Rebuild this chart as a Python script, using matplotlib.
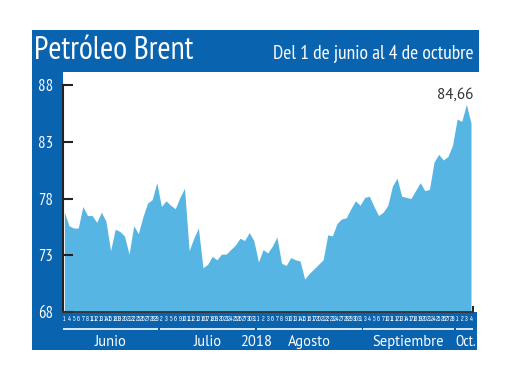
import matplotlib.pyplot as plt
from matplotlib.patches import Rectangle
from matplotlib import transforms

# Brent daily close, 1 Jun - 4 Oct 2018
months = ['Junio', 'Julio', 'Agosto', 'Septiembre', 'Oct.']
days = [
    [1, 4, 5, 6, 7, 8, 11, 12, 13, 14, 15, 18, 19, 20, 21, 22, 25, 26, 27, 28, 29],
    [2, 3, 5, 6, 9, 10, 11, 12, 13, 16, 17, 18, 19, 20, 23, 24, 25, 26, 27, 30, 31],
    [1, 2, 3, 6, 7, 8, 9, 10, 13, 14, 15, 16, 17, 20, 21, 22, 23, 24, 27, 28, 29, 30, 31],
    [3, 4, 5, 6, 7, 10, 11, 12, 13, 14, 17, 18, 19, 20, 21, 24, 25, 26, 27, 28],
    [1, 2, 3, 4],
]
prices = [
    76.8, 75.6, 75.4, 75.4, 77.3, 76.5, 76.5, 75.9, 76.8, 76.0, 73.4,
    75.3, 75.1, 74.7, 73.1, 75.6, 74.9, 76.4, 77.6, 77.9, 79.4,
    77.3, 77.8, 77.4, 77.1, 78.1, 78.9, 73.4, 74.5, 75.4, 71.9, 72.2,
    72.9, 72.6, 73.1, 73.1, 73.5, 73.9, 74.5, 74.3, 75.0, 74.3,
    72.4, 73.5, 73.2, 73.8, 74.6, 72.3, 72.1, 72.8, 72.6, 72.5, 70.9,
    71.4, 71.8, 72.2, 72.6, 74.8, 74.7, 75.8, 76.2, 76.3, 77.1, 77.8, 77.4,
    78.1, 78.2, 77.3, 76.5, 76.8, 77.4, 79.1, 79.8, 78.2, 78.1,
    78.0, 78.7, 79.4, 78.7, 78.8, 81.2, 81.9, 81.4, 81.7, 82.7,
    85.0, 84.8, 86.3, 84.66,
]
last_label = '84,66'
yticks = [68, 73, 78, 83, 88]

day_labels = [str(d) for m in days for d in m]
x = list(range(len(prices)))

BLUE = '#0963AE'
FILL = '#57B5E3'
W, H = 520, 390
NARROW = ['PT Sans Narrow', 'DejaVu Sans']
TINY = ['Sofia Sans Extra Condensed', 'DejaVu Sans']
SANS = ['PT Sans', 'DejaVu Sans']

fig = plt.figure(figsize=(W / 100, H / 100), dpi=100)


def box(x0, y0, x1, y1):
    fig.add_artist(Rectangle((x0 / W, 1 - y1 / H), (x1 - x0) / W, (y1 - y0) / H,
                             transform=fig.transFigure, color=BLUE, zorder=0, lw=0))


box(32, 30, 479, 72)    # title bar
box(32, 72, 63, 350)    # left strip
box(32, 312, 477, 350)  # bottom strip

fig.text(34 / W, 1 - 51 / H, 'Petróleo Brent', color='white', fontsize=23,
         family=NARROW, va='center', ha='left')
fig.text(474 / W, 1 - 53 / H, 'Del 1 de junio al 4 de octubre', color='white',
         fontsize=14, family=NARROW, va='center', ha='right')

ax = fig.add_axes([63 / W, 1 - 312 / H, (477 - 63) / W, (312 - 72) / H])
ax.fill_between(x, prices, 68, color=FILL, lw=0)
ax.set_ylim(68, 89.15)
ax.set_xlim(-0.3, len(prices) - 1 + 1.3)

for s in ['top', 'right']:
    ax.spines[s].set_visible(False)
ax.spines['left'].set_bounds(68, 88)
ax.spines['left'].set_linewidth(1.5)
ax.spines['left'].set_color('#222222')
ax.spines['bottom'].set_bounds(-0.3, len(prices) - 1 + 0.5)
ax.spines['bottom'].set_linewidth(1.3)
ax.spines['bottom'].set_color('#333333')

ax.set_yticks(yticks)
ax.set_yticklabels([str(v) for v in yticks], family=NARROW)
ax.tick_params(axis='y', direction='in', length=7, width=1.5, color='#222222',
               labelcolor='white', labelsize=12, pad=7)
ax.set_xticks(x)
ax.set_xticklabels(day_labels, family=TINY)
ax.tick_params(axis='x', length=0, labelcolor='white', labelsize=6, pad=2.5)
# small end mark at the right of the time axis
ax.set_xticks([len(prices) - 1 + 0.5], minor=True)
ax.tick_params(axis='x', which='minor', direction='in', length=4, width=1.4,
               color='#222222')

ax.text(len(prices) - 1 + 0.5, 87.1, last_label, ha='right', va='center',
        fontsize=11, color='#333333', family=SANS)

# month brackets and labels under the axis
trans = transforms.blended_transform_factory(ax.transData, fig.transFigure)
start = 0
for name, md in zip(months, days):
    end = start + len(md) - 1
    ax.plot([start - 0.35, end + 0.35], [1 - 329 / H] * 2, color='white', lw=1.2,
            transform=trans, clip_on=False, solid_capstyle='butt')
    short = name.endswith('.')
    ax.text((start + end) / 2 + (0.3 if short else 0), 1 - 342 / H, name,
            transform=trans, ha='center', va='center', color='white',
            fontsize=11 if short else 10.5, family=NARROW if short else SANS)
    start = end + 1
ax.text(len(days[0]) + len(days[1]) - 0.5, 1 - 342 / H, '2018', transform=trans,
        ha='center', va='center', color='white', fontsize=10.5, family=SANS)

fig.savefig('out.png', dpi=100)
